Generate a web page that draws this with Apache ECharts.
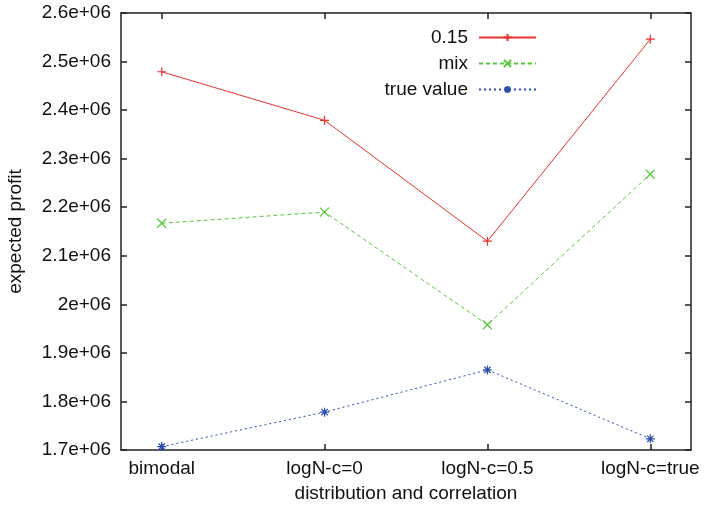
<!DOCTYPE html>
<html><head><meta charset="utf-8">
<script src="https://cdn.jsdelivr.net/npm/echarts@6/dist/echarts.min.js"></script>
<style>html,body{margin:0;padding:0;background:#fff}#c{width:706px;height:505px}</style>
</head><body><div id="c"></div>
<script>
const categories = ['bimodal', 'logN-c=0', 'logN-c=0.5', 'logN-c=true'];
const seriesNames = ['0.15', 'mix', 'true value'];
const v015 = [2479000, 2379000, 2130000, 2546000];
const vMix = [2167000, 2190000, 1958000, 2268000];
const vTrue = [1707000, 1778000, 1865000, 1723000];
const yTicks = [1700000, 1800000, 1900000, 2000000, 2100000, 2200000, 2300000, 2400000, 2500000, 2600000];

const colors = ['#e8322c', '#55c83a', '#2b4db2'];
const symbols = [
  'path://M0,5L10,5M5,0L5,10',
  'path://M0,0L10,10M0,10L10,0',
  'path://M0,5L10,5M5,0L5,10M1.5,1.5L8.5,8.5M1.5,8.5L8.5,1.5'
];
const lineTypes = ['solid', [4, 3], [2, 3]];
const dataSets = [v015, vMix, vTrue];
const idx = categories.map((c, i) => i);

function fmtY(v) {
  const m = v / 1e6;
  let s = (Math.round(m * 10) / 10).toString();
  return s + 'e+06';
}
const font = 'Liberation Sans, Arial, Helvetica, sans-serif';
const fs = 19;

const chart = echarts.init(document.getElementById('c'), null, {renderer: 'canvas'});
chart.setOption({
  animation: false,
  backgroundColor: '#fff',
  grid: {left: 121, top: 13, right: 15, bottom: 55, containLabel: false, outerBoundsMode: 'none'},
  legend: {
    orient: 'vertical', right: 164, top: 23, align: 'right',
    itemWidth: 57, itemHeight: 9, itemGap: 7,
    textStyle: {fontSize: fs, color: '#111', fontFamily: font, padding: [0, 6, 0, 0]},
    data: seriesNames
  },
  xAxis: [{
    type: 'value', min: -0.25, max: 3.25, position: 'bottom',
    name: 'distribution and correlation', nameLocation: 'middle', nameGap: 34,
    nameTextStyle: {fontSize: fs, color: '#111', fontFamily: font},
    axisLine: {onZero: false, lineStyle: {color: '#222', width: 1.5}},
    axisTick: {inside: true, length: 6, customValues: idx, lineStyle: {color: '#222', width: 1.5}},
    axisLabel: {customValues: idx, formatter: v => categories[Math.round(v)], fontSize: fs, color: '#111', fontFamily: font, margin: 9},
    splitLine: {show: false}
  }, {
    type: 'value', min: -0.25, max: 3.25, position: 'top',
    axisLine: {onZero: false, lineStyle: {color: '#222', width: 1.5}},
    axisTick: {inside: true, length: 6, customValues: idx, lineStyle: {color: '#222', width: 1.5}},
    axisLabel: {show: false}, splitLine: {show: false}
  }],
  yAxis: [{
    type: 'value', min: 1700000, max: 2600000, position: 'left',
    name: 'expected profit', nameLocation: 'middle', nameGap: 96,
    nameTextStyle: {fontSize: fs, color: '#111', fontFamily: font},
    axisLine: {show: true, onZero: false, lineStyle: {color: '#222', width: 1.5}},
    axisTick: {show: true, inside: true, length: 6, customValues: yTicks, lineStyle: {color: '#222', width: 1.5}},
    axisLabel: {customValues: yTicks, formatter: fmtY, fontSize: fs, color: '#111', fontFamily: font, margin: 10},
    splitLine: {show: false}
  }, {
    type: 'value', min: 1700000, max: 2600000, position: 'right',
    axisLine: {show: true, onZero: false, lineStyle: {color: '#222', width: 1.5}},
    axisTick: {show: true, inside: true, length: 6, customValues: yTicks, lineStyle: {color: '#222', width: 1.5}},
    axisLabel: {show: false}, splitLine: {show: false}
  }],
  series: seriesNames.map((n, k) => ({
    name: n, type: 'line', xAxisIndex: 0, yAxisIndex: 0,
    data: dataSets[k].map((v, i) => [i, v]),
    symbol: symbols[k], symbolSize: 9, showSymbol: true,
    color: colors[k],
    lineStyle: {color: colors[k], width: 1, type: lineTypes[k]},
    itemStyle: {color: 'rgba(0,0,0,0)', borderColor: colors[k], borderWidth: 1.2},
    emphasis: {disabled: true}
  }))
});
</script></body></html>
